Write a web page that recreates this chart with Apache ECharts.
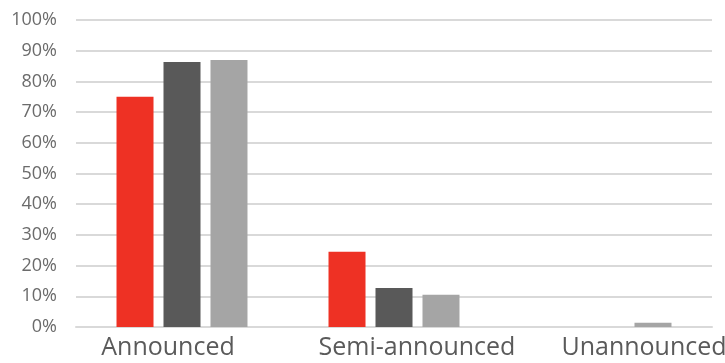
<!DOCTYPE html>
<html>
<head>
<meta charset="utf-8">
<script src="https://cdn.jsdelivr.net/npm/echarts@6/dist/echarts.min.js"></script>
<style>
  html, body { margin: 0; padding: 0; background: #fff; }
  #chart { width: 725px; height: 363px; }
</style>
</head>
<body>
<div id="chart"></div>
<script>
// Share of items by announcement status, three groups per category
const categories = ['Announced', 'Semi-announced', 'Unannounced'];
const seriesRed = [75, 24.5, 0];
const seriesDark = [86.3, 12.7, 0];
const seriesLight = [87, 10.5, 1.4];
const yTicks = [0, 10, 20, 30, 40, 50, 60, 70, 80, 90, 100];

// horizontal nudges for the category captions (px, positive = right)
const labelShift = { 'Announced': -14, 'Semi-announced': 23, 'Unannounced': 38 };

const chart = echarts.init(document.getElementById('chart'), null, { renderer: 'canvas' });

const barStyle = (color) => ({
  type: 'bar',
  barWidth: 37,
  barGap: '27%',
  itemStyle: { color: color },
  emphasis: { disabled: true }
});

const rich = {};
categories.forEach((c, i) => {
  const s = labelShift[c];
  rich['c' + i] = {
    fontFamily: 'Open Sans',
    fontSize: 25,
    color: '#5a5a5a',
    padding: s >= 0 ? [0, 0, 0, 2 * s] : [0, -2 * s, 0, 0]
  };
});

chart.setOption({
  animation: false,
  grid: {
    left: 76, right: 13, top: 20, bottom: 36,
    containLabel: false,
    outerBoundsMode: 'none'
  },
  xAxis: {
    type: 'category',
    data: categories,
    axisLine: { show: true, lineStyle: { color: '#d9d9d9', width: 2 } },
    axisTick: { show: false },
    axisLabel: {
      margin: 8,
      interval: 0,
      hideOverlap: false,
      formatter: (v) => '{c' + categories.indexOf(v) + '|' + v + '}',
      rich: rich
    }
  },
  yAxis: {
    type: 'value',
    min: yTicks[0],
    max: yTicks[yTicks.length - 1],
    interval: 10,
    axisLine: { show: false },
    axisTick: { show: false },
    splitLine: { lineStyle: { color: '#d9d9d9', width: 2 } },
    axisLabel: {
      margin: 19,
      fontFamily: 'Open Sans',
      fontSize: 18,
      color: '#6b6b6b',
      formatter: '{value}%'
    }
  },
  series: [
    Object.assign(barStyle('#ee3124'), { name: 'A', data: seriesRed }),
    Object.assign(barStyle('#595959'), { name: 'B', data: seriesDark }),
    Object.assign(barStyle('#a5a5a5'), { name: 'C', data: seriesLight })
  ]
});
</script>
</body>
</html>
